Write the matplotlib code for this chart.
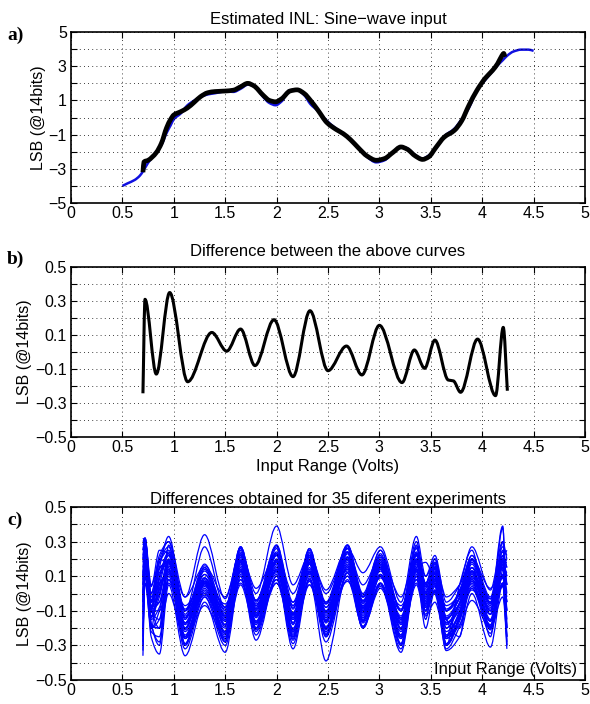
import numpy as np
import matplotlib
matplotlib.use("Agg")
import matplotlib.pyplot as plt
from matplotlib.path import Path
from matplotlib.patches import PathPatch

plt.rcParams['font.family'] = ['Liberation Sans', 'DejaVu Sans']

# ---------- DATOS ----------
# a) INL de referencia (azul) y estimado (negro)
ref_x = [0.50, 0.55, 0.62, 0.67, 0.70, 0.75, 0.83, 0.88, 0.93, 0.97, 1.00, 1.07, 1.13, 1.20,
         1.26, 1.33, 1.40, 1.50, 1.58, 1.65, 1.72, 1.78, 1.87, 1.93, 1.99, 2.05, 2.13, 2.20,
         2.27, 2.33, 2.40, 2.49, 2.58, 2.65, 2.72, 2.80, 2.88, 2.97, 3.05, 3.13, 3.21, 3.27,
         3.35, 3.42, 3.48, 3.55, 3.63, 3.73, 3.80, 3.87, 3.95, 4.03, 4.10, 4.15, 4.20, 4.25,
         4.30, 4.38, 4.45, 4.50]
ref_y = [-4.00, -3.85, -3.65, -3.40, -3.15, -2.65, -2.00, -1.60, -0.90, -0.45, -0.10, 0.25,
         0.70, 1.00, 1.20, 1.35, 1.42, 1.52, 1.50, 1.68, 1.92, 1.85, 1.20, 0.85, 0.72, 0.95,
         1.60, 1.60, 1.30, 0.78, 0.40, -0.20, -0.65, -0.95, -1.30, -1.75, -2.30, -2.62, -2.50,
         -2.05, -1.70, -1.80, -2.20, -2.40, -2.22, -1.80, -1.10, -0.65, -0.10, 0.55, 1.60,
         2.20, 2.70, 3.05, 3.35, 3.65, 3.85, 3.97, 3.97, 3.90]

est_x = [0.70, 0.71, 0.75, 0.83, 0.88, 0.93, 0.97, 1.00, 1.07, 1.13, 1.20, 1.26, 1.33, 1.40,
         1.50, 1.58, 1.65, 1.72, 1.78, 1.87, 1.93, 1.99, 2.05, 2.13, 2.20, 2.27, 2.33, 2.40,
         2.49, 2.58, 2.65, 2.72, 2.80, 2.88, 2.97, 3.05, 3.13, 3.21, 3.27, 3.35, 3.42, 3.48,
         3.55, 3.63, 3.73, 3.80, 3.87, 3.95, 4.03, 4.10, 4.15, 4.19, 4.21, 4.22]
est_y = [-3.20, -2.60, -2.50, -2.05, -1.50, -0.60, -0.10, 0.15, 0.35, 0.55, 0.90, 1.22, 1.45,
         1.52, 1.55, 1.60, 1.80, 2.00, 1.85, 1.30, 1.00, 0.92, 1.10, 1.55, 1.62, 1.40, 1.00,
         0.45, -0.30, -0.70, -0.95, -1.30, -1.80, -2.25, -2.50, -2.40, -2.05, -1.72, -1.85,
         -2.25, -2.45, -2.30, -1.75, -1.15, -0.75, -0.20, 0.70, 1.60, 2.30, 2.75, 3.15, 3.60,
         3.75, 3.55]

# b) diferencia entre las curvas
diff_x = [0.700, 0.720, 0.830, 0.960, 1.135, 1.370, 1.515, 1.650, 1.790, 1.975, 2.160, 2.325,
          2.500, 2.680, 2.830, 3.000, 3.220, 3.340, 3.440, 3.540, 3.670, 3.720, 3.790, 3.955,
          4.130, 4.205, 4.245]
diff_y = [-0.243, 0.310, -0.130, 0.350, -0.175, 0.115, 0.005, 0.135, -0.080, 0.190, -0.145,
          0.243, -0.110, 0.035, -0.135, 0.157, -0.180, 0.012, -0.096, 0.070, -0.165, -0.170,
          -0.237, 0.076, -0.257, 0.145, -0.228]

# c) 35 experimentos (valores en los extremos de cada oscilacion)
exp_x = [0.70, 0.72, 0.78, 0.86, 0.95, 1.11, 1.30, 1.50, 1.65, 1.80, 2.00, 2.16, 2.32, 2.48,
         2.69, 2.84, 3.01, 3.21, 3.36, 3.45, 3.54, 3.65, 3.78, 3.90, 4.08, 4.20, 4.24]
exp_y = [
    [0.30, 0.32, 0.05, 0.20, 0.30, -0.02, 0.34, -0.03, 0.25, 0.00, 0.39, 0.05, 0.22, 0.02, 0.26, 0.12, 0.27, -0.05, 0.33, 0.10, 0.22, -0.05, 0.05, 0.27, 0.02, 0.30, 0.20],
    [-0.36, 0.10, -0.25, -0.35, 0.05, -0.36, -0.05, -0.34, 0.10, -0.27, 0.10, -0.32, 0.08, -0.39, 0.12, -0.20, 0.05, -0.34, 0.10, -0.20, 0.02, -0.33, -0.25, 0.00, -0.31, 0.05, -0.32],
    [0.32, 0.30, -0.05, 0.15, 0.33, -0.10, 0.27, -0.08, 0.27, -0.05, 0.28, -0.05, 0.25, -0.05, 0.28, 0.00, 0.25, -0.10, 0.30, 0.05, 0.20, -0.10, 0.00, 0.22, -0.05, 0.39, -0.30],
    [0.20, 0.30, -0.05, 0.10, 0.24, -0.14, 0.13, -0.12, 0.22, -0.08, 0.23, -0.12, 0.21, -0.10, 0.24, -0.05, 0.20, -0.15, 0.23, 0.03, 0.15, -0.15, -0.02, 0.18, -0.06, 0.20, 0.10],
    [-0.10, 0.22, -0.15, -0.08, 0.12, -0.26, 0.02, -0.23, 0.13, -0.18, 0.13, -0.22, 0.12, -0.21, 0.15, -0.15, 0.10, -0.25, 0.13, -0.08, 0.05, -0.26, -0.14, 0.06, -0.18, 0.10, -0.15],
    [0.05, 0.31, -0.14, 0.05, 0.22, -0.25, 0.09, -0.22, 0.22, -0.16, 0.22, -0.21, 0.20, -0.20, 0.24, -0.12, 0.18, -0.24, 0.22, -0.03, 0.12, -0.24, -0.10, 0.15, -0.15, 0.18, 0.05],
    [-0.05, 0.18, -0.07, 0.02, 0.13, -0.14, 0.05, -0.13, 0.13, -0.09, 0.13, -0.12, 0.12, -0.11, 0.14, -0.07, 0.11, -0.14, 0.13, -0.01, 0.07, -0.14, -0.06, 0.08, -0.08, 0.10, -0.05],
    [0.15, 0.28, -0.05, 0.12, 0.17, -0.13, 0.09, -0.11, 0.17, -0.07, 0.17, -0.11, 0.17, -0.10, 0.19, -0.05, 0.15, -0.13, 0.17, 0.01, 0.11, -0.13, -0.03, 0.13, -0.07, 0.15, 0.12],
    [-0.20, 0.15, -0.20, -0.15, 0.08, -0.26, -0.02, -0.24, 0.08, -0.20, 0.08, -0.23, 0.07, -0.22, 0.10, -0.17, 0.06, -0.26, 0.08, -0.10, 0.01, -0.26, -0.15, 0.03, -0.19, 0.06, -0.20],
    [0.25, 0.32, 0.00, 0.18, 0.25, -0.10, 0.15, -0.08, 0.24, -0.04, 0.24, -0.07, 0.23, -0.06, 0.26, -0.01, 0.21, -0.10, 0.24, 0.06, 0.17, -0.10, 0.01, 0.19, -0.03, 0.22, 0.15],
    [-0.15, 0.30, -0.18, -0.20, 0.20, -0.29, 0.06, -0.26, 0.20, -0.20, 0.20, -0.25, 0.19, -0.24, 0.23, -0.16, 0.17, -0.29, 0.20, -0.06, 0.10, -0.29, -0.13, 0.13, -0.19, 0.17, -0.25],
    [0.10, 0.20, -0.04, 0.05, 0.13, -0.10, 0.06, -0.09, 0.13, -0.06, 0.13, -0.08, 0.12, -0.08, 0.14, -0.04, 0.11, -0.10, 0.13, 0.01, 0.08, -0.10, -0.03, 0.09, -0.05, 0.11, 0.05],
    [-0.25, 0.18, -0.22, -0.25, 0.10, -0.32, -0.02, -0.30, 0.10, -0.24, 0.10, -0.29, 0.09, -0.28, 0.12, -0.20, 0.06, -0.32, 0.10, -0.12, 0.01, -0.32, -0.19, 0.03, -0.23, 0.06, -0.28],
    [0.28, 0.32, 0.00, 0.22, 0.30, -0.12, 0.17, -0.10, 0.27, -0.04, 0.28, -0.09, 0.26, -0.08, 0.28, -0.02, 0.25, -0.10, 0.26, 0.06, 0.20, -0.10, 0.02, 0.22, -0.02, 0.27, 0.22],
    [0.00, 0.24, -0.09, -0.05, 0.16, -0.18, 0.06, -0.16, 0.16, -0.12, 0.16, -0.15, 0.15, -0.14, 0.18, -0.09, 0.14, -0.18, 0.16, 0.05, 0.00, -0.25, 0.02, 0.05, -0.20, 0.22, -0.10],
    [-0.12, 0.12, -0.10, -0.10, 0.06, -0.17, -0.01, -0.16, 0.06, -0.13, 0.06, -0.15, 0.05, -0.15, 0.07, -0.11, 0.04, -0.17, 0.06, -0.06, 0.01, -0.17, -0.10, 0.02, -0.12, 0.04, -0.10],
    [0.08, 0.29, -0.08, 0.08, 0.22, -0.17, 0.11, -0.14, 0.21, -0.09, 0.22, -0.13, 0.21, -0.12, 0.24, -0.06, 0.19, -0.16, 0.22, 0.00, 0.14, -0.18, -0.05, 0.17, -0.10, 0.20, 0.00],
    [-0.05, 0.27, -0.13, -0.02, 0.19, -0.25, 0.06, -0.23, 0.19, -0.17, 0.19, -0.22, 0.18, -0.20, 0.21, -0.13, 0.15, -0.25, 0.19, -0.04, 0.09, -0.25, -0.11, 0.12, -0.16, 0.15, -0.05],
    [0.18, 0.26, -0.02, 0.14, 0.19, -0.09, 0.11, -0.08, 0.19, -0.04, 0.19, -0.07, 0.19, -0.06, 0.21, -0.02, 0.17, -0.09, 0.19, 0.04, 0.13, -0.09, 0.00, 0.15, -0.03, 0.17, 0.18],
    [-0.30, 0.16, -0.18, -0.28, 0.08, -0.22, 0.00, -0.20, 0.08, -0.16, 0.08, -0.20, 0.08, -0.19, 0.10, -0.14, 0.06, -0.22, 0.08, -0.08, 0.02, -0.22, -0.12, 0.04, -0.16, 0.06, -0.20],
    [0.12, 0.26, -0.10, 0.15, 0.18, -0.20, 0.07, -0.18, 0.18, -0.13, 0.18, -0.17, 0.17, -0.16, 0.20, -0.10, 0.15, -0.20, 0.20, -0.10, 0.18, -0.15, -0.25, 0.20, -0.05, 0.10, 0.10],
    [0.20, 0.28, -0.17, -0.30, 0.18, -0.29, 0.05, -0.27, 0.18, -0.20, 0.19, -0.25, 0.17, -0.24, 0.21, -0.16, 0.14, -0.29, 0.18, -0.07, 0.08, -0.29, -0.14, 0.11, -0.19, 0.14, 0.20],
    [0.00, 0.18, -0.02, 0.06, 0.12, -0.07, 0.07, -0.06, 0.12, -0.04, 0.12, -0.05, 0.11, -0.05, 0.13, -0.02, 0.10, -0.07, 0.12, 0.02, 0.08, -0.07, -0.01, 0.09, -0.03, 0.10, -0.02],
    [-0.22, 0.06, -0.19, -0.20, 0.00, -0.26, -0.07, -0.25, 0.05, -0.21, 0.06, -0.24, 0.05, -0.23, 0.08, -0.19, 0.03, -0.26, 0.05, -0.13, -0.05, -0.26, -0.18, -0.04, -0.20, -0.02, -0.25],
    [0.30, 0.30, 0.04, 0.25, 0.23, -0.02, 0.16, -0.02, 0.23, 0.03, 0.23, 0.00, 0.22, 0.00, 0.24, 0.05, 0.21, -0.02, 0.23, 0.10, 0.18, -0.02, 0.05, 0.20, 0.03, 0.20, 0.25],
    [-0.33, 0.31, -0.20, 0.10, 0.23, -0.30, 0.08, -0.28, 0.23, -0.20, 0.23, -0.26, 0.22, -0.25, 0.26, -0.16, 0.19, -0.30, 0.23, -0.05, 0.12, -0.30, -0.13, 0.15, -0.20, 0.19, -0.30],
    [-0.02, 0.20, -0.08, 0.20, 0.15, -0.17, 0.06, -0.15, 0.15, -0.11, 0.15, -0.14, 0.14, -0.14, 0.17, -0.09, 0.13, -0.17, 0.15, -0.15, 0.15, -0.30, 0.05, 0.25, -0.25, 0.30, -0.20],
    [0.25, 0.32, -0.08, -0.20, 0.28, -0.20, 0.14, -0.18, 0.26, -0.12, 0.26, -0.17, 0.24, -0.16, 0.27, -0.08, 0.22, -0.20, 0.28, 0.00, 0.16, -0.20, -0.06, 0.20, -0.12, 0.25, 0.05],
    [-0.08, 0.20, -0.14, 0.03, 0.14, -0.24, 0.03, -0.22, 0.14, -0.17, 0.14, -0.21, 0.13, -0.20, 0.16, -0.14, 0.11, -0.24, 0.14, -0.06, 0.06, -0.24, -0.12, 0.08, -0.16, 0.11, -0.10],
    [0.05, 0.26, -0.11, 0.00, 0.19, -0.21, 0.07, -0.19, 0.19, -0.14, 0.19, -0.18, 0.18, -0.17, 0.21, -0.11, 0.16, -0.21, 0.15, 0.18, 0.05, -0.15, -0.20, 0.10, -0.10, 0.15, 0.05],
    [0.10, 0.25, -0.08, 0.00, 0.19, -0.17, 0.09, -0.15, 0.19, -0.10, 0.19, -0.14, 0.18, -0.13, 0.21, -0.08, 0.16, -0.17, 0.19, 0.00, 0.12, -0.17, -0.06, 0.13, -0.10, 0.16, 0.10],
    [-0.28, 0.20, -0.20, -0.10, 0.14, -0.30, 0.01, -0.28, 0.14, -0.22, 0.14, -0.27, 0.13, -0.25, 0.16, -0.19, 0.10, -0.30, 0.14, -0.10, 0.04, -0.30, -0.16, 0.07, -0.21, 0.10, -0.25],
    [0.22, 0.32, -0.04, 0.18, 0.27, -0.15, 0.15, -0.13, 0.27, -0.07, 0.27, -0.12, 0.26, -0.11, 0.28, -0.04, 0.23, -0.15, 0.27, 0.05, 0.18, -0.15, -0.02, 0.20, -0.06, 0.24, 0.15],
    [-0.05, 0.15, -0.08, -0.05, 0.11, -0.14, 0.04, -0.13, 0.11, -0.09, 0.11, -0.12, 0.10, -0.11, 0.12, -0.08, 0.09, -0.14, 0.11, -0.02, 0.06, -0.14, -0.06, 0.07, -0.09, 0.09, -0.05],
    [0.00, 0.25, -0.10, -0.15, 0.18, -0.20, 0.07, -0.18, 0.18, -0.13, 0.18, -0.17, 0.17, -0.16, 0.20, -0.10, 0.15, -0.20, 0.18, -0.02, 0.10, -0.20, -0.08, 0.12, -0.12, 0.38, -0.20],
]

x_ticks = [0, 0.5, 1, 1.5, 2, 2.5, 3, 3.5, 4, 4.5, 5]
x_labels = ['0', '0.5', '1', '1.5', '2', '2.5', '3', '3.5', '4', '4.5', '5']
ya_ticks = [-5, -3, -1, 1, 3, 5]
ya_labels = ['\u22125', '\u22123', '\u22121', '1', '3', '5']
yb_ticks = [-0.5, -0.3, -0.1, 0.1, 0.3, 0.5]
yb_labels = ['\u22120.5', '\u22120.3', '\u22120.1', '0.1', '0.3', '0.5']


def curva_suave(xs, ys):
    """Path Bezier (tangentes tipo PCHIP) que pasa por los puntos leidos."""
    xs = np.asarray(xs, float)
    ys = np.asarray(ys, float)
    h = np.diff(xs)
    d = np.diff(ys) / h
    m = np.zeros(len(xs))
    m[0], m[-1] = d[0], d[-1]
    for i in range(1, len(xs) - 1):
        if d[i - 1] * d[i] > 0:
            w1 = 2 * h[i] + h[i - 1]
            w2 = h[i] + 2 * h[i - 1]
            m[i] = (w1 + w2) / (w1 / d[i - 1] + w2 / d[i])
    verts = [(xs[0], ys[0])]
    codes = [Path.MOVETO]
    for i in range(len(xs) - 1):
        verts += [(xs[i] + h[i] / 3, ys[i] + m[i] * h[i] / 3),
                  (xs[i + 1] - h[i] / 3, ys[i + 1] - m[i + 1] * h[i] / 3),
                  (xs[i + 1], ys[i + 1])]
        codes += [Path.CURVE4] * 3
    return Path(verts, codes)


def dibujar(ax, xs, ys, color, lw):
    ax.add_patch(PathPatch(curva_suave(xs, ys), facecolor='none', edgecolor=color,
                           lw=lw, joinstyle='round', capstyle='butt'))


def estilo(ax, yticks, ylabels, minor):
    ax.set_xlim(0, 5)
    ax.set_ylim(yticks[0], yticks[-1])
    ax.set_xticks(x_ticks)
    ax.set_xticklabels(x_labels)
    ax.set_yticks(yticks)
    ax.set_yticklabels(ylabels)
    ax.set_yticks(minor, minor=True)
    ax.tick_params(which='both', direction='in', top=True, right=True, labelsize=11.5,
                   length=4, width=0.8)
    ax.tick_params(axis='x', pad=2)
    ax.tick_params(axis='y', pad=3)
    ax.grid(True, which='both', color='black', linestyle=(0, (1, 4)), linewidth=0.6)
    for s in ax.spines.values():
        s.set_linewidth(1.2)
    ax.set_ylabel('LSB (@14bits)', fontsize=11.5, labelpad=2)


fig = plt.figure(figsize=(5.9, 7.04), dpi=100)
ax_a = fig.add_axes([0.1203, 0.7116, 0.8712, 0.2429])
ax_b = fig.add_axes([0.1203, 0.3793, 0.8712, 0.2414])
ax_c = fig.add_axes([0.1203, 0.0341, 0.8712, 0.2457])

# ---------- a) ----------
dibujar(ax_a, ref_x, ref_y, '#1010e0', 1.8)
dibujar(ax_a, est_x, est_y, 'black', 3.4)
estilo(ax_a, ya_ticks, ya_labels, [-4, -2, 0, 2, 4])
ax_a.set_title('Estimated INL: Sine\u2212wave input', fontsize=12, pad=6)

# ---------- b) ----------
dibujar(ax_b, diff_x, diff_y, 'black', 2.2)
estilo(ax_b, yb_ticks, yb_labels, [-0.4, -0.2, 0, 0.2, 0.4])
ax_b.set_title('Difference between the above curves', fontsize=12, pad=8)
ax_b.set_xlabel('Input Range (Volts)', fontsize=12, labelpad=3)

# ---------- c) ----------
for fila in exp_y:
    dibujar(ax_c, exp_x, fila, '#0000ff', 0.9)
estilo(ax_c, yb_ticks, yb_labels, [-0.4, -0.2, 0, 0.2, 0.4])
ax_c.set_title('Differences obtained for 35 diferent experiments', fontsize=12, pad=1)
ax_c.text(0.985, 0.015, 'Input Range (Volts)', transform=ax_c.transAxes,
          ha='right', va='bottom', fontsize=12)

# etiquetas de panel
for txt, y in [('a)', 0.950), ('b)', 0.631), ('c)', 0.261)]:
    fig.text(0.012, y, txt, fontsize=14, fontweight='bold', va='center',
             family='Liberation Serif')

fig.savefig('out.png', dpi=100)
